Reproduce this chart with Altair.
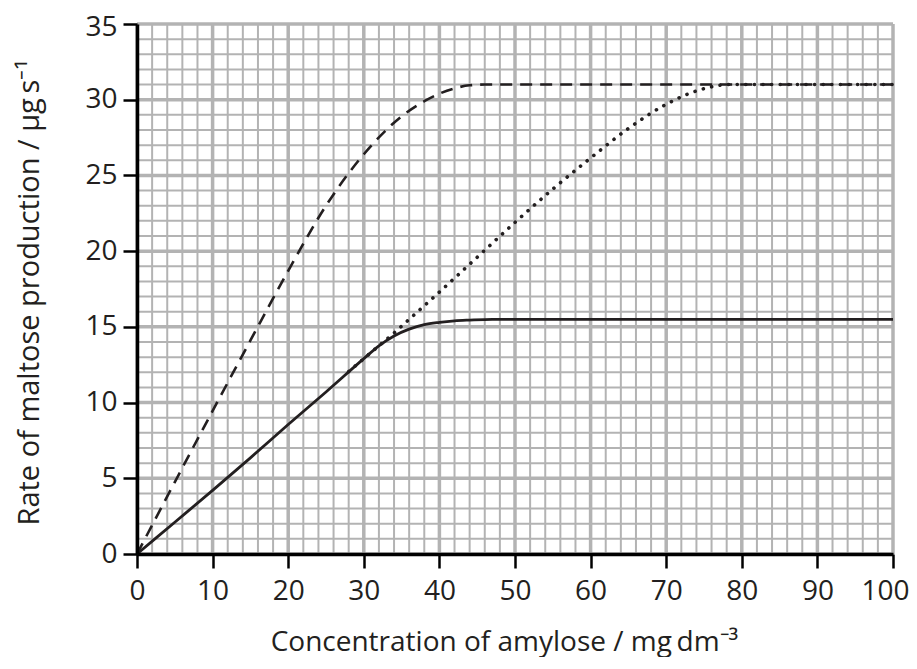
import altair as alt
import pandas as pd

# --- data ---
solid_x = [0, 5, 10, 15, 20, 25, 30, 32, 34, 36, 38, 40, 42, 44, 47, 50, 100]
solid_y = [0, 2.1, 4.2, 6.35, 8.55, 10.7, 12.9, 13.75, 14.4, 14.85, 15.15, 15.3, 15.4, 15.45, 15.5, 15.5, 15.5]

dashed_x = [0, 5, 10, 15, 20, 25, 30, 35, 38, 40, 42, 44, 46, 100]
dashed_y = [0, 4.75, 9.45, 14.1, 18.7, 23.0, 26.4, 28.9, 29.9, 30.4, 30.75, 30.95, 31.0, 31.0]

dotted_x = [28, 30, 32, 34, 36, 40, 45, 50, 55, 60, 65, 70, 73, 76, 78, 100]
dotted_y = [12.05, 12.9, 13.75, 14.6, 15.5, 17.3, 19.6, 21.9, 24.1, 26.15, 28.1, 29.7, 30.4, 30.85, 31.0, 31.0]

x_major = [0, 10, 20, 30, 40, 50, 60, 70, 80, 90, 100]
y_major = [0, 5, 10, 15, 20, 25, 30, 35]
x_minor = list(range(0, 101, 2))
y_minor = list(range(0, 36, 1))

FONT = "Open Sans"
INK = "#231f20"
GRID = "#b3b3b3"

xscale = alt.Scale(domain=[0, 100], nice=False, zero=True)
yscale = alt.Scale(domain=[0, 35], nice=False, zero=True)

x_axis = alt.Axis(
    values=x_major, grid=False, domainColor="black", domainWidth=3.5,
    tickColor="black", tickWidth=2.5, tickSize=14, labelFont=FONT,
    labelFontSize=28, labelColor=INK, labelPadding=9, titleFont=FONT,
    labelOffset=alt.ExprRef(expr="datum.value == 100 ? -8 : 0"),
    titleFontSize=28, titleFontWeight="normal", titleColor=INK,
    titleX=367, titleY=96, titleAlign="center", titleBaseline="alphabetic",
    zindex=1, labelFlush=False,
    title="Concentration of amylose / mg\u2009dm\u207b\u00b3",
)
y_axis = alt.Axis(
    values=y_major, grid=False, domainColor="black", domainWidth=3.5,
    tickColor="black", tickWidth=2.5, tickSize=14, labelFont=FONT,
    labelFontSize=28, labelColor=INK, labelPadding=6, titleFont=FONT,
    labelOffset=alt.ExprRef(expr="datum.value == 35 ? 3 : 0"),
    titleFontSize=29, titleFontWeight="normal", titleColor=INK,
    titleX=-108, titleY=268, titleAngle=-90, titleAlign="center",
    titleBaseline="middle", zindex=1, labelFlush=False,
    title="Rate of maltose production / \u00b5g\u2009s\u207b\u00b9",
)

X = lambda f: alt.X(f, type="quantitative", scale=xscale, axis=x_axis)
Y = lambda f: alt.Y(f, type="quantitative", scale=yscale, axis=y_axis)

vmin = alt.Chart(pd.DataFrame({"gx": x_minor})).mark_rule(
    color=GRID, strokeWidth=2).encode(x=X("gx"))
hmin = alt.Chart(pd.DataFrame({"gy": y_minor})).mark_rule(
    color=GRID, strokeWidth=2).encode(y=Y("gy"))
vmaj = alt.Chart(pd.DataFrame({"gx": x_major})).mark_rule(
    color=GRID, strokeWidth=3.5).encode(x=X("gx"))
hmaj = alt.Chart(pd.DataFrame({"gy": y_major})).mark_rule(
    color=GRID, strokeWidth=3.5).encode(y=Y("gy"))

solid = alt.Chart(pd.DataFrame({"x": solid_x, "y": solid_y})).mark_line(
    color=INK, strokeWidth=2.8, interpolate="monotone").encode(x=X("x"), y=Y("y"))
dashed = alt.Chart(pd.DataFrame({"x": dashed_x, "y": dashed_y})).mark_line(
    color=INK, strokeWidth=2.6, strokeDash=[12, 8], interpolate="monotone").encode(x=X("x"), y=Y("y"))
dotted = alt.Chart(pd.DataFrame({"x": dotted_x, "y": dotted_y})).mark_line(
    color=INK, strokeWidth=3.6, strokeDash=[0.1, 8.5], strokeCap="round",
    interpolate="monotone").encode(x=X("x"), y=Y("y"))

chart = alt.layer(vmin, hmin, vmaj, hmaj, solid, dotted, dashed).properties(
    width=756, height=530,
    autosize=alt.AutoSizeParams(type="none"),
    padding={"left": 129, "top": 16, "right": 16, "bottom": 103},
).configure_view(stroke=None).configure(background="white")

chart.save("out.html", embed_options={"renderer": "svg", "actions": False})
